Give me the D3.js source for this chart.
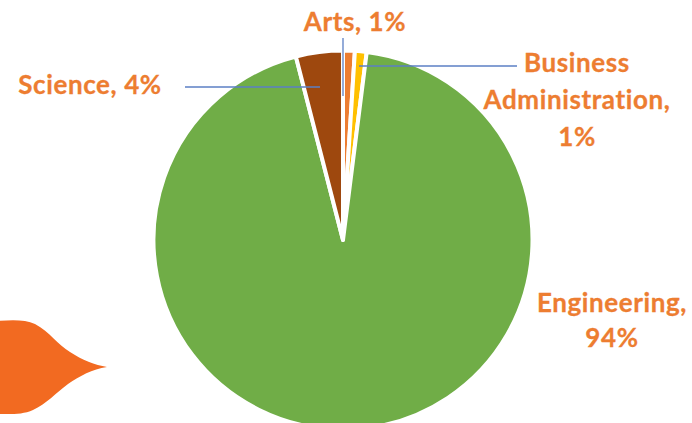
<!DOCTYPE html>
<html><head><meta charset="utf-8">
<script src="https://cdn.jsdelivr.net/npm/d3@7/dist/d3.min.js"></script>
<style>html,body{margin:0;padding:0;background:#fff;overflow:hidden}svg{display:block}</style>
</head><body><svg id="c" width="692" height="423"></svg>
<script>
const categories = ["Arts", "Business Administration", "Engineering", "Science"];
const values = [1, 1, 94, 4];
const colors = ["#ED7D31", "#FFC000", "#70AD47", "#9E480E"];
const labelLines = [["Arts, 1%"], ["Business", "Administration,", "1%"], ["Engineering,", "94%"], ["Science, 4%"]];

const svg = d3.select("#c");
const cx = 343, cy = 240, r = 189.5;

// decorative blob, bottom-left
svg.append("path")
  .attr("d", "M-5,321 C10,320 25,319 35,324 C50,332 58,345 70,352 C82,360 95,365 107,367 C92,369 80,376 68,384 C56,393 46,404 33,410 C22,415 10,414 -5,414 Z")
  .attr("fill", "#F26A21");

const pie = d3.pie().sort(null).value(d => d)(values);
const arc = d3.arc().innerRadius(0).outerRadius(r);
const g = svg.append("g").attr("transform", `translate(${cx},${cy})`);
g.selectAll("path").data(pie).join("path")
  .attr("d", arc).attr("fill", (d, i) => colors[i])
  .attr("stroke", "#fff").attr("stroke-width", 4).attr("stroke-linejoin", "round");

// leader lines
const leaders = [[343,38,343,96],[359,66,517,66],[185,87,320,87]];
svg.selectAll("line").data(leaders).join("line")
  .attr("x1", d => d[0]).attr("y1", d => d[1]).attr("x2", d => d[2]).attr("y2", d => d[3])
  .attr("stroke", "#5B7FC4").attr("stroke-width", 1.3);

// labels: anchor x and first baseline per category
const labelPos = [[355,31],[577,72],[612,312],[90,94]];
const lineStep = [0, 37, 35, 0];
const t = svg.append("g").attr("font-family", "Lato, 'Open Sans', sans-serif")
  .attr("font-weight", 700).attr("font-size", 26).attr("letter-spacing", 0.6)
  .attr("fill", "#ED7D31").attr("stroke", "#ED7D31").attr("stroke-width", 0.3).attr("text-anchor", "middle");
labelLines.forEach((lines, i) => lines.forEach((s, j) =>
  t.append("text").attr("x", labelPos[i][0]).attr("y", labelPos[i][1] + j * lineStep[i]).text(s)));
</script></body></html>
